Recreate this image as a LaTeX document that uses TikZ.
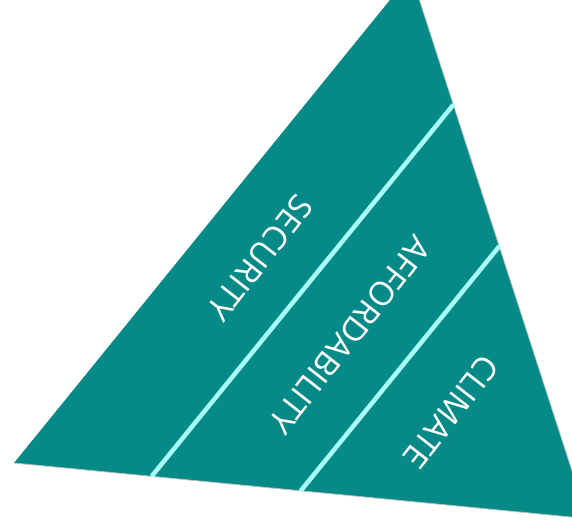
\documentclass[tikz,border=0pt]{standalone}
\usepackage{fontspec}
\setmainfont{Open Sans}
\usepackage{xcolor}
\usepackage{tikz}
\usetikzlibrary{calc}
\definecolor{tealfill}{HTML}{068A87}
\definecolor{aqualine}{HTML}{A8FFF8}
\definecolor{edgegray}{HTML}{B8C4C4}
\newcommand{\LabelFont}{\fontsize{33}{38}\selectfont}

\begin{document}
\begin{tikzpicture}[x=1pt,y=-1pt]
          \useasboundingbox (0,0) rectangle (572,520);
          \clip (0,0) rectangle (572,520);
          \coordinate (apex) at (411,-26);
          \coordinate (left) at (14,463);
          \coordinate (right) at (587.5,518.6);
          \fill[tealfill] (apex) -- (left) -- (right) -- cycle;
          \draw[edgegray,line width=0.8pt] (left) -- (right) -- (apex);
          \foreach \t in {0.24,0.5}
            \draw[aqualine,line width=4.5pt] ($(left)!\t!(right)$) -- ($(apex)!\t!(right)$);
          \node[white,rotate=-128,inner sep=0pt] (security) at (260,258) {\LabelFont SECURITY};
          \node[white,rotate=-128,inner sep=0pt] (afford) at (350,335) {\LabelFont AFFORDABILITY};
          \node[white,rotate=-128,inner sep=0pt] (climate) at (451,412) {\LabelFont CLIMATE};
        \end{tikzpicture}
\end{document}
